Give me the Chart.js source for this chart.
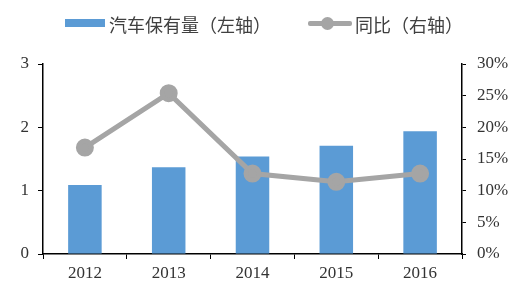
<!DOCTYPE html>
<html>
<head>
<meta charset="utf-8">
<script src="https://cdn.jsdelivr.net/npm/chart.js@4"></script>
<style>
  html, body { margin: 0; padding: 0; background: #fff; }
  #wrap { position: relative; width: 520px; height: 291px; }
  #legend { position: absolute; top: 10px; left: 0; width: 520px; height: 28px;
    font-family: "Noto Sans CJK SC", sans-serif; font-size: 18px; color: #404040; }
  .item { position: absolute; top: 0; line-height: 28px; white-space: nowrap; }
  .swatch { position: absolute; left: 65px; top: 9px; width: 40px; height: 8px; background: #5B9BD5; }
  .lline { position: absolute; left: 308px; top: 11px; width: 44px; height: 5px; background: #A5A5A5; border-radius: 2px; }
  .ldot { position: absolute; left: 321px; top: 7px; width: 13px; height: 13px; border-radius: 50%; background: #A5A5A5; }
  canvas { position: absolute; top: 0; left: 0; }
</style>
</head>
<body>
<div id="wrap">
  <canvas id="chart" width="520" height="291"></canvas>
  <div id="legend">
    <div class="swatch"></div>
    <div class="item" style="left:109px">汽车保有量（左轴）</div>
    <div class="lline"></div>
    <div class="ldot"></div>
    <div class="item" style="left:355px">同比（右轴）</div>
  </div>
</div>
<script>
var years = ["2012", "2013", "2014", "2015", "2016"];
var ownership = [1.09, 1.37, 1.54, 1.71, 1.94];
var growth = [16.8, 25.4, 12.7, 11.4, 12.7];

var tickFont = { family: "Liberation Serif", size: 17 };
var ink = "#333333";

new Chart(document.getElementById("chart").getContext("2d"), {
  data: {
    labels: years,
    datasets: [
      {
        type: "line",
        label: "同比（右轴）",
        data: growth,
        yAxisID: "y1",
        borderColor: "#A5A5A5",
        backgroundColor: "#A5A5A5",
        borderWidth: 5,
        pointRadius: 6.5,
        pointHoverRadius: 6.5,
        tension: 0,
        order: 0
      },
      {
        type: "bar",
        label: "汽车保有量（左轴）",
        data: ownership,
        yAxisID: "y",
        backgroundColor: "#5B9BD5",
        barPercentage: 0.4,
        categoryPercentage: 1,
        order: 1
      }
    ]
  },
  options: {
    responsive: false,
    animation: false,
    events: [],
    layout: { padding: { top: 64, left: 0, right: 0, bottom: 0 } },
    plugins: { legend: { display: false }, tooltip: { enabled: false } },
    scales: {
      x: {
        offset: true,
        grid: { offset: true, drawOnChartArea: false, tickLength: 5, color: "#000" },
        border: { color: "#000", width: 1.5 },
        ticks: { font: tickFont, color: ink, padding: 4 },
        afterFit: function (s) { s.height = 37; }
      },
      y: {
        position: "left",
        min: 0, max: 3,
        grid: { drawOnChartArea: false, tickLength: 5, color: "#000" },
        border: { color: "#000", width: 1.5 },
        ticks: { stepSize: 1, font: tickFont, color: ink, padding: 9 },
        afterFit: function (s) { s.width = 43; }
      },
      y1: {
        position: "right",
        min: 0, max: 30,
        grid: { drawOnChartArea: false, tickLength: 4, color: "#000" },
        border: { color: "#000", width: 1.5 },
        ticks: { stepSize: 5, font: tickFont, color: ink, padding: 11,
          callback: function (v) { return v + "%"; } },
        afterFit: function (s) { s.width = 58; }
      }
    }
  }
});
</script>
</body>
</html>
